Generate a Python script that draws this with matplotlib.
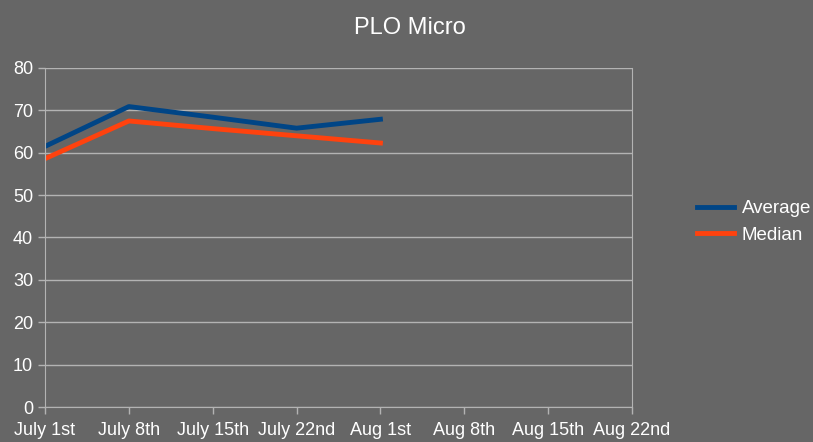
import matplotlib
matplotlib.use("Agg")
import matplotlib.pyplot as plt
from matplotlib import font_manager

weeks = ["July 1st", "July 8th", "July 15th", "July 22nd",
         "Aug 1st", "Aug 8th", "Aug 15th", "Aug 22nd"]
average = [61.5, 70.9, 68.4, 65.8, 67.9]
median = [58.6, 67.5, 65.7, 64.0, 62.3]

bg = "#666666"
names = {f.name for f in font_manager.fontManager.ttflist}
narrow = "Liberation Sans Narrow" if "Liberation Sans Narrow" in names else "Liberation Sans"
plt.rcParams["font.family"] = ["Liberation Sans", "DejaVu Sans"]

fig = plt.figure(figsize=(8.13, 4.42), dpi=100, facecolor=bg)
ax = fig.add_axes([45 / 813, 35 / 442, 587 / 813, 339 / 442], facecolor=bg)

x = list(range(len(weeks)))
ax.plot(x[:len(average)], average, color="#004586", lw=3.5, label="Average")
ax.plot(x[:len(median)], median, color="#ff420e", lw=3.5, label="Median")

ax.set_xlim(0, len(weeks) - 1)
ax.set_ylim(0, 80)
ax.set_yticks(range(0, 81, 10))
ax.set_xticks(x)
ax.set_xticklabels(weeks, fontsize=13, family=[narrow, "DejaVu Sans"], color="white")
ax.tick_params(axis="y", labelsize=13, labelcolor="white")
ax.tick_params(axis="both", color="#b3b3b3", length=5, width=1)
ax.tick_params(axis="x", pad=6)
ax.grid(axis="y", color="#b3b3b3", lw=1)
ax.set_axisbelow(True)
ax.spines["top"].set_visible(False)
for side in ["left", "bottom", "right"]:
    ax.spines[side].set_color("#b3b3b3")

fig.text(410 / 813, 1 - 28 / 442, "PLO Micro", ha="center", va="center",
         fontsize=17, color="white")

leg = fig.legend(loc="center left", bbox_to_anchor=(680 / 813, 1 - 222 / 442),
                 frameon=False, fontsize=13.5, handlelength=2.0, handletextpad=0.4,
                 labelspacing=0.5)
for t in leg.get_texts():
    t.set_color("white")

fig.savefig("out.png", facecolor=bg)
